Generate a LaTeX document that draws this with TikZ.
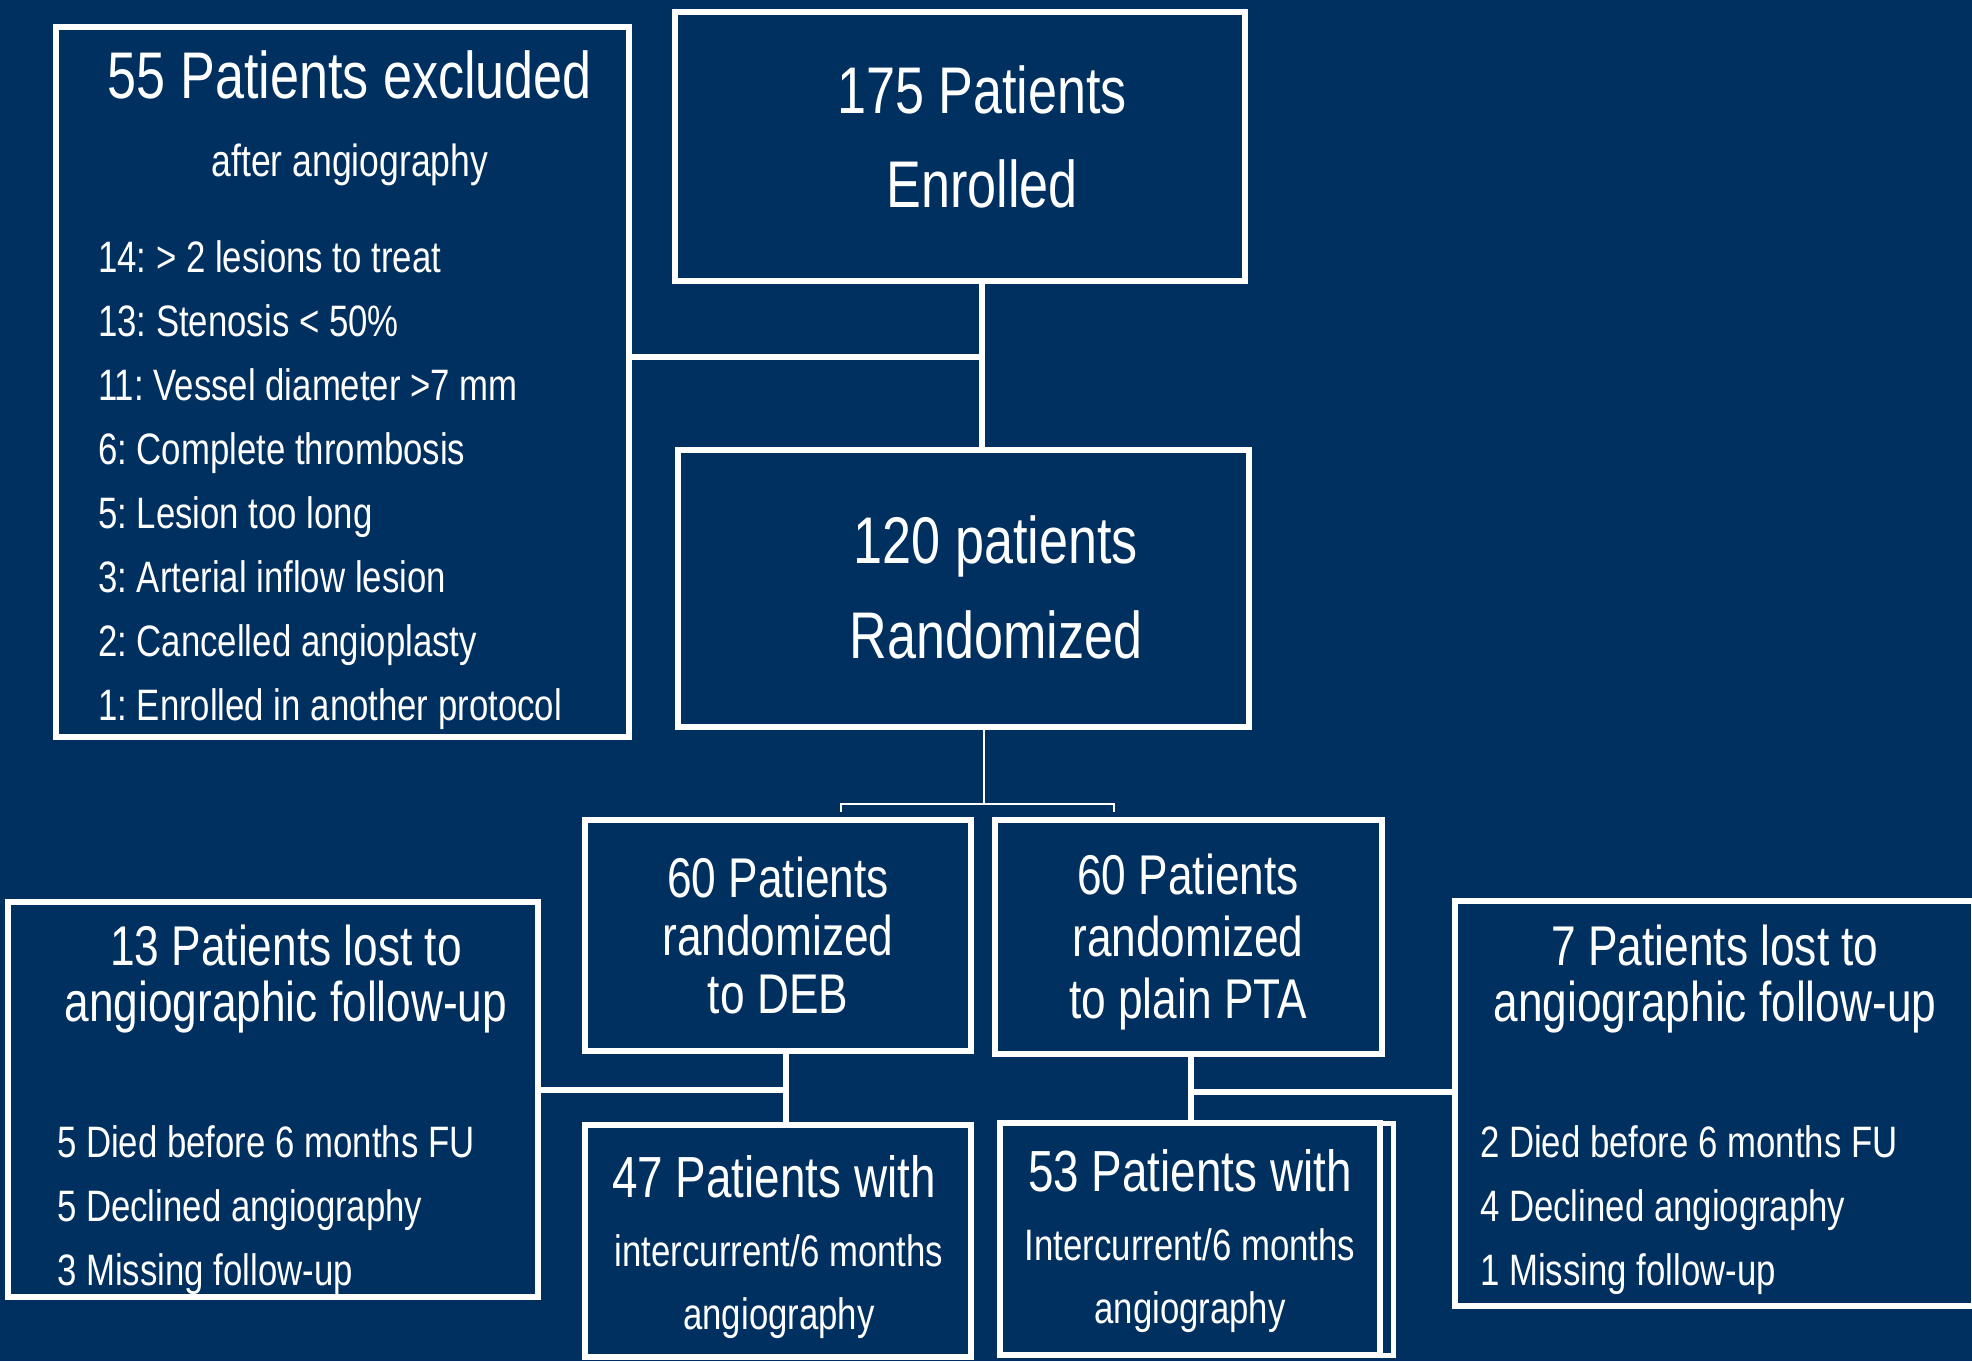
\documentclass[tikz,border=0pt]{standalone}
\usepackage{fontspec}
\setmainfont[FakeStretch=0.79]{Liberation Sans}
\usepackage{tikz}
\definecolor{navy}{RGB}{0,48,96}
\frenchspacing

\begin{document}
\begin{tikzpicture}[x=1pt,y=-1pt,
  box/.style={draw=white,line width=6pt,inner sep=0pt,outer sep=0pt,anchor=north west},
  link/.style={draw=white,line width=5.5pt},
  split/.style={draw=white,line width=2.5pt},
  txt/.style={text=white,inner sep=0pt,anchor=base,align=center},
  lst/.style={text=white,inner sep=0pt,anchor=base west,align=left},
  big/.style={font=\fontsize{66pt}{#1}\selectfont},
  mid/.style={font=\fontsize{56pt}{#1}\selectfont},
  sml/.style={font=\fontsize{44pt}{#1}\selectfont}]
%\draw[help lines] (0,0) grid (1972,1361);
  \useasboundingbox (0,0) rectangle (1972,1361);
  \fill[navy] (0,0) rectangle (1972,1361);

  \node[box,minimum width=573pt,minimum height=710pt] (excl)  at (56,27)    {};
  \node[box,minimum width=570pt,minimum height=269pt] (enrol) at (675,12)   {};
  \node[box,minimum width=571pt,minimum height=277pt] (rand)  at (678,450)  {};
  \node[box,minimum width=386pt,minimum height=231pt] (deb)   at (585,820)  {};
  \node[box,minimum width=387pt,minimum height=234pt] (pta)   at (995,820)  {};
  \node[box,minimum width=530pt,minimum height=395pt] (lostl) at (8,902)    {};
  \node[box,minimum width=519pt,minimum height=405pt] (lostr) at (1455,901) {};
  \node[box,minimum width=386pt,minimum height=232pt] (fu47)  at (585,1125) {};
  \node[box,minimum width=380pt,minimum height=232pt] (fu53)  at (1000,1123) {};
  \draw[white,line width=5pt] (fu53.north west) rectangle ([xshift=13pt]fu53.south east);

  % anchor=base sits on the last line of each node
  \node[txt,big=94pt] (enrol-t) at (982,207) {175 Patients\\Enrolled};
  \node[txt,big=95pt] (rand-t)  at (996,658) {120 patients\\Randomized};
  \node[txt,big=80pt] (excl-t)  at (350,98)  {55 Patients excluded};
  \node[txt,font=\fontsize{45pt}{55pt}\selectfont] (excl-s) at (350,176) {after angiography};
  \node[lst,sml=64pt] (excl-l) at (98,720) {14: > 2 lesions to treat\\13: Stenosis < 50\%\\11: Vessel diameter >7 mm\\6: Complete thrombosis\\5: Lesion too long\\3: Arterial inflow lesion\\2: Cancelled angioplasty\\1: Enrolled in another protocol};

  \node[txt,mid=58pt] (deb-t) at (778,1013)  {60 Patients\\randomized\\to DEB};
  \node[txt,mid=62pt] (pta-t) at (1188,1018) {60 Patients\\randomized\\to plain PTA};

  \node[txt,mid=56pt] (lostl-t) at (286,1021)  {13 Patients lost to\\angiographic follow-up};
  \node[lst,sml=64pt] (lostl-l) at (57,1285)   {5 Died before 6 months FU\\5 Declined angiography\\3 Missing follow-up};
  \node[txt,mid=56pt] (lostr-t) at (1715,1021) {7 Patients lost to\\angiographic follow-up};
  \node[lst,sml=64pt] (lostr-l) at (1480,1285) {2 Died before 6 months FU\\4 Declined angiography\\1 Missing follow-up};

  \node[txt,font=\fontsize{58pt}{70pt}\selectfont] (fu47-t) at (774,1197) {47 Patients with};
  \node[txt,font=\fontsize{44pt}{63pt}\selectfont] (fu47-s) at (779,1329) {intercurrent/6 months\\angiography};
  \node[txt,font=\fontsize{58pt}{70pt}\selectfont] (fu53-t) at (1190,1191) {53 Patients with};
  \node[txt,font=\fontsize{44pt}{63pt}\selectfont] (fu53-s) at (1190,1323) {Intercurrent/6 months\\angiography};

  \coordinate (j1) at (982,357);
  \coordinate (j2) at (984,804);
  \coordinate (j3) at (786,1090);
  \coordinate (j4) at (1191,1092);
  \coordinate (bl) at (841,812);
  \coordinate (br) at (1114,812);

  \path[link] (enrol.south -| j1) -- (rand.north -| j1)
              (excl.east |- j1)   -- (j1)
              (deb.south -| j3)   -- (fu47.north -| j3)
              (lostl.east |- j3)  -- (j3)
              (pta.south -| j4)   -- (fu53.north -| j4)
              (j4) -- (lostr.west |- j4);
  \path[split] (rand.south -| j2) -- (j2)
               (bl) |- (j2) -| (br);
\end{tikzpicture}
\end{document}
